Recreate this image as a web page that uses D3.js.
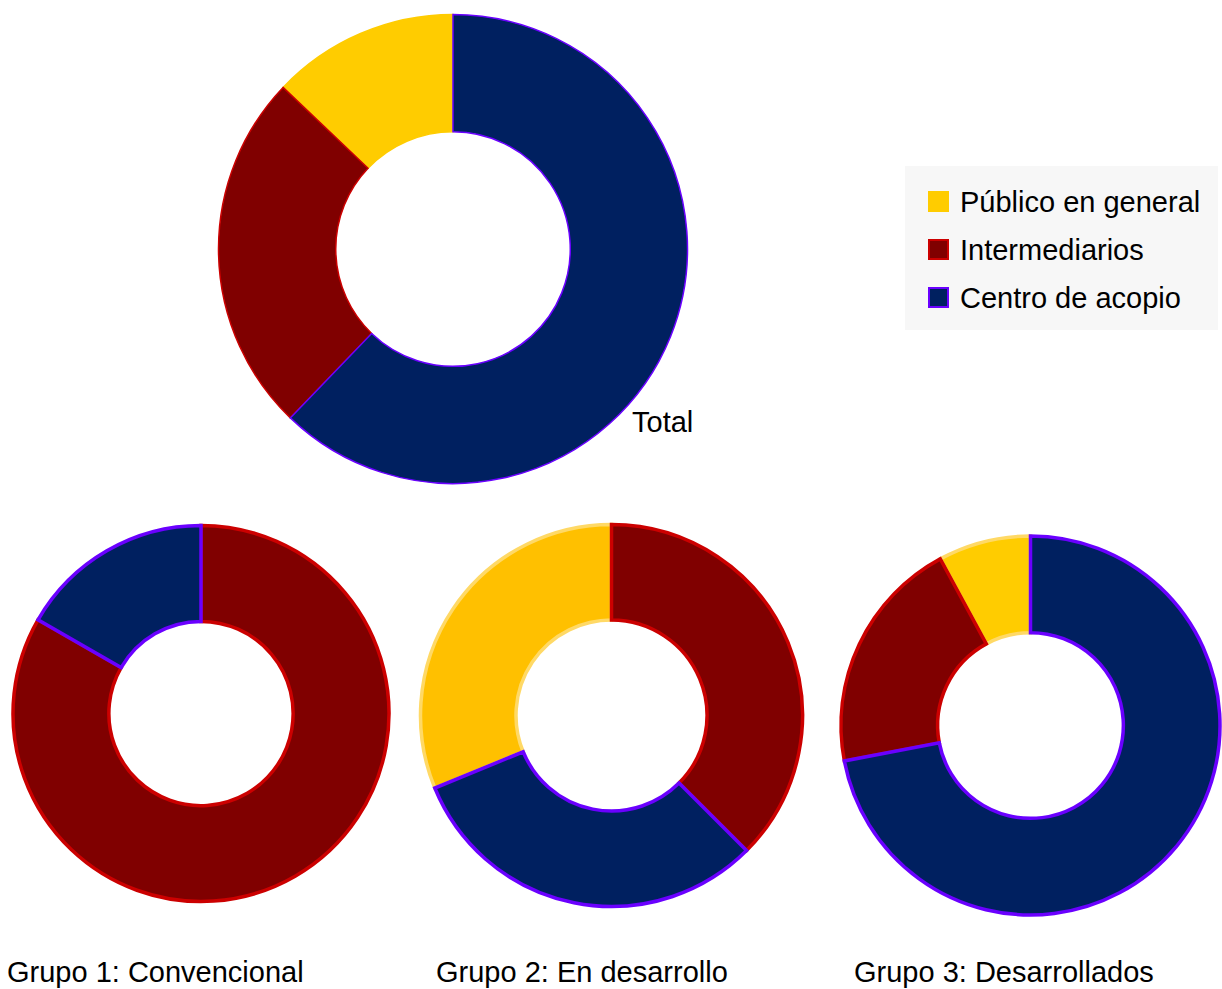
<!DOCTYPE html>
<html>
<head>
<meta charset="utf-8">
<script src="https://cdn.jsdelivr.net/npm/d3@7"></script>
<style>
  html, body { margin: 0; padding: 0; background: #ffffff; }
  svg { display: block; font-family: "Liberation Sans", Arial, sans-serif; }
</style>
</head>
<body>
<svg id="chart" width="1222" height="989"></svg>
<script>
// Destination of the product, share (%) by buyer type
const categories = ["Público en general", "Intermediarios", "Centro de acopio"];
const totalValues = [12.9, 24.9, 62.2];
const grupo1Values = [0, 83.3, 16.7];
const grupo2Values = [31.2, 37.5, 31.3];
const grupo3Values = [7.9, 20.1, 72.0];
const chartTitles = ["Total", "Grupo 1: Convencional", "Grupo 2: En desarrollo", "Grupo 3: Desarrollados"];

const fillColors = ["#ffcc00", "#800000", "#002060"];
const strokeColors = ["#ffd966", "#cc0000", "#6a00ff"];

const svg = d3.select("#chart");

const charts = [
  { values: totalValues,  cx: 453,   cy: 249,   r: 234.5, hole: 0.5,  sw: 1.5, pubFill: "#ffcc00", pubStroke: "#ffcc00",
    label: { x: 632, y: 432, anchor: "start" } },
  { values: grupo1Values, cx: 201,   cy: 713.5, r: 188,   hole: 0.49, sw: 3.5, pubFill: "#ffcc00", pubStroke: "#ffd966",
    label: { x: 7, y: 982, anchor: "start" } },
  { values: grupo2Values, cx: 611.5, cy: 715.5, r: 191,   hole: 0.5,  sw: 3.5, pubFill: "#ffc000", pubStroke: "#ffd966",
    label: { x: 436, y: 982, anchor: "start" } },
  { values: grupo3Values, cx: 1030.5, cy: 725.5, r: 189.5, hole: 0.49, sw: 3.5, pubFill: "#ffcc00", pubStroke: "#ffd966",
    label: { x: 854, y: 982, anchor: "start" } }
];

// slices go clockwise from 12 o'clock, largest first
const pie = d3.pie()
  .value(d => d.value)
  .sort((a, b) => b.value - a.value);

charts.forEach((c, ci) => {
  const rows = categories
    .map((cat, i) => ({ cat, i, value: c.values[i] }))
    .filter(d => d.value > 0);

  const arc = d3.arc()
    .innerRadius(c.r * c.hole)
    .outerRadius(c.r);

  const g = svg.append("g").attr("transform", `translate(${c.cx},${c.cy})`);

  g.selectAll("path")
    .data(pie(rows))
    .join("path")
    .attr("d", arc)
    .attr("fill", d => d.data.i === 0 ? c.pubFill : fillColors[d.data.i])
    .attr("stroke", d => d.data.i === 0 ? c.pubStroke : strokeColors[d.data.i])
    .attr("stroke-width", c.sw)
    .attr("stroke-linejoin", "miter");

  svg.append("text")
    .attr("x", c.label.x)
    .attr("y", c.label.y)
    .attr("text-anchor", c.label.anchor)
    .attr("font-size", 29)
    .attr("fill", "#000")
    .text(chartTitles[ci]);
});

// Legend
const legend = svg.append("g").attr("transform", "translate(905,166)");
legend.append("rect")
  .attr("width", 313).attr("height", 164)
  .attr("fill", "#f7f7f7");

const legendY = d3.scalePoint().domain(categories).range([46, 142]);

const items = legend.selectAll("g.item")
  .data(categories)
  .join("g")
  .attr("class", "item")
  .attr("transform", d => `translate(0,${legendY(d)})`);

items.append("rect")
  .attr("x", 24).attr("y", -20)
  .attr("width", 19).attr("height", 19)
  .attr("fill", (d, i) => fillColors[i])
  .attr("stroke", (d, i) => i === 0 ? fillColors[0] : strokeColors[i])
  .attr("stroke-width", 2);

items.append("text")
  .attr("x", 55).attr("y", 0)
  .attr("font-size", 29)
  .attr("fill", "#000")
  .text(d => d);
</script>
</body>
</html>
